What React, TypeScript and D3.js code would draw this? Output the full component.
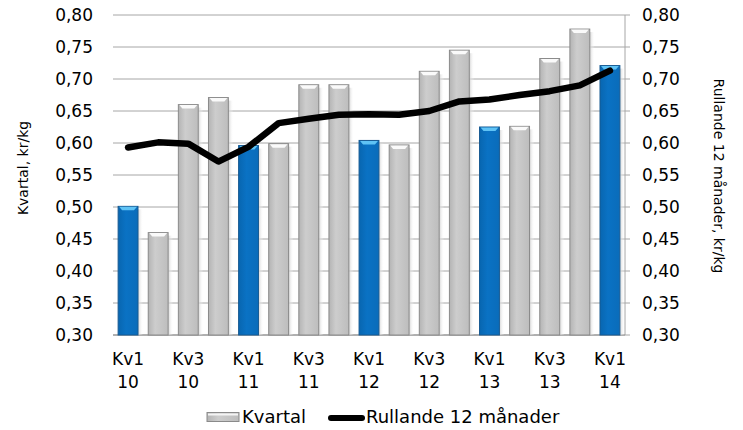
import * as d3 from 'd3'

const quarters = [
  'Kv1 10', 'Kv2 10', 'Kv3 10', 'Kv4 10',
  'Kv1 11', 'Kv2 11', 'Kv3 11', 'Kv4 11',
  'Kv1 12', 'Kv2 12', 'Kv3 12', 'Kv4 12',
  'Kv1 13', 'Kv2 13', 'Kv3 13', 'Kv4 13',
  'Kv1 14',
]
const kvartal = [
  0.501, 0.46, 0.66, 0.671,
  0.596, 0.599, 0.691, 0.691,
  0.604, 0.597, 0.712, 0.745,
  0.625, 0.626, 0.732, 0.778,
  0.721,
]
const rullande = [
  0.593, 0.601, 0.599, 0.571,
  0.594, 0.631, 0.638, 0.644,
  0.645, 0.644, 0.650, 0.665,
  0.668, 0.675, 0.681, 0.690,
  0.713,
]
const ticks = [0.3, 0.35, 0.4, 0.45, 0.5, 0.55, 0.6, 0.65, 0.7, 0.75, 0.8]

const W = 743
const H = 430
const left = 113
const right = 625
const top = 15
const bottom = 335
const font = 'DejaVu Sans, Verdana, sans-serif'

export default function App() {
  const x = d3.scaleBand().domain(quarters).range([left, right]).padding(0)
  const y = d3.scaleLinear().domain([0.3, 0.8]).range([bottom, top])
  const bw = x.step() * 0.66
  const fmt = (v: number) => v.toFixed(2).replace('.', ',')
  const cx = (q: string) => (x(q) as number) + x.step() / 2

  const line = d3
    .line<number>()
    .x((_, i) => cx(quarters[i]))
    .y((d) => y(d))

  return (
    <svg width={W} height={H} style={{ position: 'absolute', left: 0, top: 0, fontFamily: font }}>
      <defs>
        <linearGradient id="gray" x1="0" x2="1" y1="0" y2="0">
          <stop offset="0%" stopColor="#b4b4b4" />
          <stop offset="35%" stopColor="#cdcdcd" />
          <stop offset="100%" stopColor="#bdbdbd" />
        </linearGradient>
        <linearGradient id="blue" x1="0" x2="1" y1="0" y2="0">
          <stop offset="0%" stopColor="#0866b0" />
          <stop offset="40%" stopColor="#0a72c4" />
          <stop offset="100%" stopColor="#0a6cba" />
        </linearGradient>
        <linearGradient id="shadow" x1="0" x2="1" y1="0" y2="0">
          <stop offset="0%" stopColor="#cfcfcf" stopOpacity="0.9" />
          <stop offset="100%" stopColor="#ffffff" stopOpacity="0" />
        </linearGradient>
      </defs>

      {ticks.map((t) => (
        <g key={t}>
          <line x1={left} x2={right + 5} y1={y(t)} y2={y(t)} stroke="#a6a6a6" strokeWidth={1} />
          <text x={93} y={y(t) + 6} textAnchor="end" fontSize={17} fill="#000">
            {fmt(t)}
          </text>
          <text x={642} y={y(t) + 6} textAnchor="start" fontSize={17} fill="#000">
            {fmt(t)}
          </text>
        </g>
      ))}
      <line x1={right} x2={right} y1={top} y2={bottom} stroke="#a6a6a6" />
      <line x1={left} x2={right} y1={bottom} y2={bottom} stroke="#8c8c8c" />

      {quarters.map((q, i) => {
        const isQ1 = q.startsWith('Kv1')
        const bx = cx(q) - bw / 2
        const by = y(kvartal[i])
        const bh = bottom - by
        return (
          <g key={q}>
            <rect x={bx + bw} y={by + 3} width={5} height={bh - 3} fill="url(#shadow)" />
            <rect
              x={bx}
              y={by}
              width={bw}
              height={bh}
              fill={isQ1 ? 'url(#blue)' : 'url(#gray)'}
              stroke={isQ1 ? '#175a92' : '#8a8a8a'}
              strokeWidth={1}
            />
            <path
              d={`M${bx + 1},${by + 0.5} L${bx + bw - 1},${by + 0.5} L${bx + bw - 4},${by + 4} L${bx + 4},${by + 4} Z`}
              fill={isQ1 ? '#5fc3f5' : '#fafafa'}
            />
          </g>
        )
      })}

      <path
        d={line(rullande) ?? ''}
        fill="none"
        stroke="#000"
        strokeWidth={6.5}
        strokeLinejoin="round"
        strokeLinecap="round"
      />

      {quarters.map((q, i) =>
        i % 2 === 0 ? (
          <text key={q} x={cx(q)} textAnchor="middle" fontSize={17} fill="#000">
            <tspan x={cx(q)} y={365}>{q.split(' ')[0]}</tspan>
            <tspan x={cx(q)} y={388}>{q.split(' ')[1]}</tspan>
          </text>
        ) : null
      )}

      <text
        transform={`translate(28,168) rotate(-90)`}
        textAnchor="middle"
        fontSize={14}
        fill="#000"
      >
        Kvartal, kr/kg
      </text>
      <text
        transform={`translate(714,176) rotate(90)`}
        textAnchor="middle"
        fontSize={14}
        fill="#000"
      >
        Rullande 12 månader, kr/kg
      </text>

      <g>
        <rect x={207} y={412.5} width={32} height={9} fill="url(#gray)" stroke="#8a8a8a" />
        <rect x={208} y={413.5} width={30} height={2} fill="#f4f4f4" />
        <text x={242} y={423} fontSize={18} fill="#000">Kvartal</text>
        <line x1={331} x2={362} y1={418} y2={418} stroke="#000" strokeWidth={6} strokeLinecap="round" />
        <text x={366} y={423} fontSize={18} fill="#000">Rullande 12 månader</text>
      </g>
    </svg>
  )
}
